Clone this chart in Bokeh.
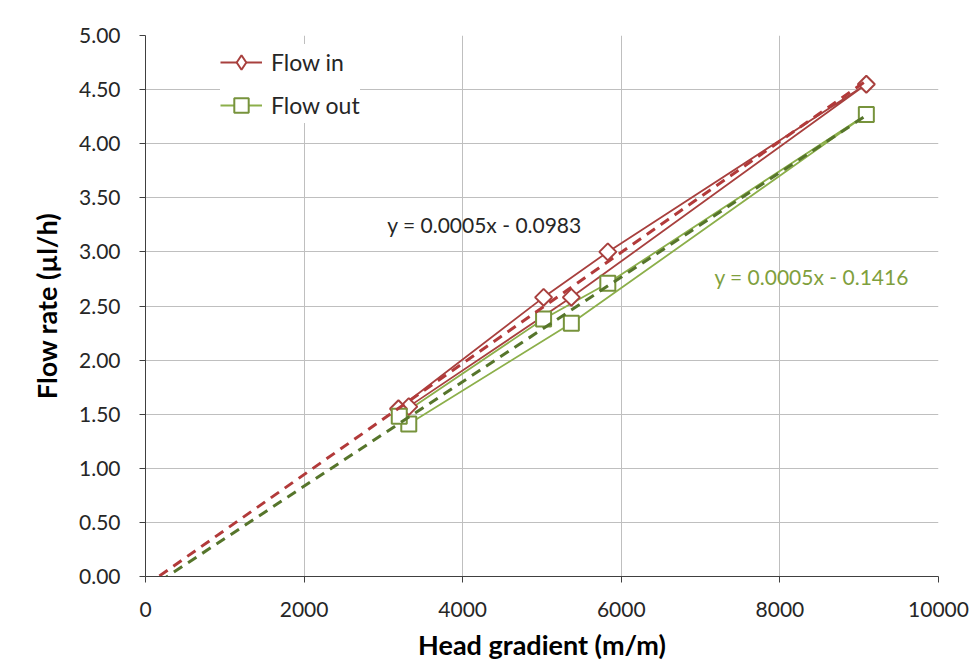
import numpy as np
from bokeh.plotting import figure
from bokeh.models import FixedTicker, PrintfTickFormatter, Range1d, Legend, LegendItem, Label
from bokeh.embed import file_html
from bokeh.resources import INLINE

# ---- data ----
flow_in_x = [3320, 5370, 9090, 5830, 5020, 3190]
flow_in_y = [1.57, 2.58, 4.55, 3.00, 2.58, 1.55]
flow_out_x = [3320, 5370, 9090, 5830, 5020, 3200]
flow_out_y = [1.41, 2.34, 4.27, 2.71, 2.38, 1.48]
eq_in_text = "y = 0.0005x - 0.0983"
eq_out_text = "y = 0.0005x - 0.1416"
x_ticks = [0, 2000, 4000, 6000, 8000, 10000]
y_ticks = [0.0, 0.5, 1.0, 1.5, 2.0, 2.5, 3.0, 3.5, 4.0, 4.5, 5.0]

FONT = "Lato"
RED = "#A8403E"
RED_DASH = "#B23A3A"
GREEN = "#77933C"
GREEN_LINE = "#8CAF4A"
GREEN_DASH = "#56752B"

p = figure(width=978, height=664, output_backend="svg", toolbar_location=None,
           x_range=Range1d(0, 10000), y_range=Range1d(0, 5),
           min_border_left=145, min_border_right=40, min_border_top=35, min_border_bottom=88)
p.outline_line_color = None
p.background_fill_color = "white"
p.border_fill_color = "white"

for ax in (p.xaxis[0], p.yaxis[0]):
    ax.axis_line_color = "#404040"
    ax.major_tick_line_color = "#404040"
    ax.major_tick_out = 6
    ax.major_tick_in = 0
    ax.minor_tick_line_color = None
    ax.major_label_text_font = FONT
    ax.major_label_text_font_size = "21px"
    ax.major_label_text_color = "#262626"
    ax.axis_label_text_font = FONT
    ax.axis_label_text_font_size = "27px"
    ax.axis_label_text_font_style = "bold"
    ax.axis_label_text_color = "#000000"

p.xaxis[0].ticker = FixedTicker(ticks=x_ticks)
p.yaxis[0].ticker = FixedTicker(ticks=y_ticks)
p.yaxis[0].formatter = PrintfTickFormatter(format="%.2f")
p.xaxis[0].axis_label = "Head gradient (m/m)"
p.yaxis[0].axis_label = "Flow rate (µl/h)"
p.xaxis[0].major_label_standoff = 19
p.yaxis[0].major_label_standoff = 19
p.xaxis[0].axis_label_standoff = 8
p.yaxis[0].axis_label_standoff = 13

p.xgrid.ticker = FixedTicker(ticks=x_ticks)
p.ygrid.ticker = FixedTicker(ticks=y_ticks)
p.grid.grid_line_color = "#BFBFBF"
p.grid.grid_line_width = 1

# series lines
l_in = p.line(flow_in_x, flow_in_y, line_color=RED, line_width=1.8)
l_out = p.line(flow_out_x, flow_out_y, line_color=GREEN_LINE, line_width=1.8)
# narrow diamond (used for the legend key), hidden under the square diamonds
m_in_key = p.scatter(flow_in_x, flow_in_y, marker="diamond", size=15, fill_color="white",
                     line_color=RED, line_width=2)
m_in = p.scatter(flow_in_x, flow_in_y, marker="square", angle=np.pi / 4, size=12,
                 fill_color="white", line_color=RED, line_width=2)
m_out = p.scatter(flow_out_x, flow_out_y, marker="square", size=15, fill_color="white",
                  line_color=GREEN, line_width=2)

# linear trend lines (least squares from the data), forecast back toward 0
for xs, ys, col in ((flow_in_x, flow_in_y, RED_DASH), (flow_out_x, flow_out_y, GREEN_DASH)):
    k, b = np.polyfit(xs, ys, 1)
    tx = [0, max(xs)]
    ty = [b + k * t for t in tx]
    p.line(tx, ty, line_color=col, line_width=3, line_dash="10 7")

# equation labels
p.add_layout(Label(x=4275, y=3.25, text=eq_in_text, text_font=FONT, text_font_size="21px",
                   text_color="#262626", text_align="center", text_baseline="middle"))
p.add_layout(Label(x=8400, y=2.77, text=eq_out_text, text_font=FONT, text_font_size="21px",
                   text_color="#7F9F3E", text_align="center", text_baseline="middle"))

legend = Legend(items=[LegendItem(label="Flow in", renderers=[l_in, m_in_key]),
                       LegendItem(label="Flow out", renderers=[l_out, m_out])],
                location=(75, 453))
legend.border_line_color = None
legend.background_fill_color = "white"
legend.background_fill_alpha = 1
legend.label_text_font = FONT
legend.label_text_font_size = "23px"
legend.label_text_color = "#262626"
legend.glyph_width = 42
legend.glyph_height = 36
legend.label_height = 36
legend.spacing = 7
legend.padding = 5
legend.label_standoff = 9
legend.margin = 0
p.add_layout(legend)

open("out.html", "w").write(file_html(p, INLINE))
